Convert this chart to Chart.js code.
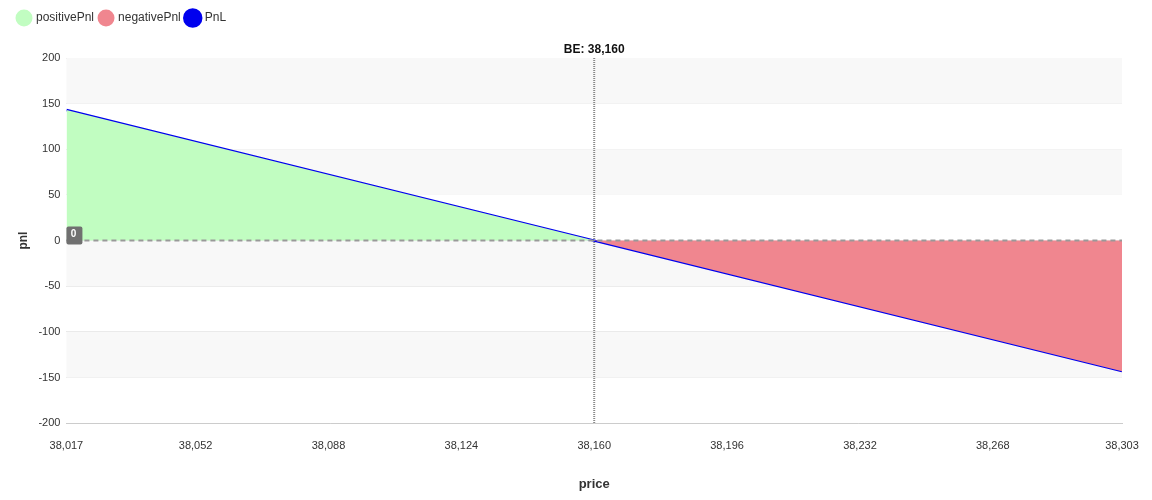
<!DOCTYPE html>
<html><head><meta charset="utf-8">
<script src="https://cdn.jsdelivr.net/npm/chart.js@4/dist/chart.umd.min.js"></script>
<style>body{margin:0;background:#fff}#w{width:1152px;height:500px}</style>
</head><body><div id="w"><canvas id="c"></canvas></div>
<script>
const xTicks = [38017, 38052, 38088, 38124, 38160, 38196, 38232, 38268, 38303];
const yTicks = [-200, -150, -100, -50, 0, 50, 100, 150, 200];
const positivePnl = [{x:38017,y:143},{x:38160,y:0}];
const negativePnl = [{x:38160,y:0},{x:38303,y:-143}];
const pnlLine = [{x:38017,y:143},{x:38160,y:0},{x:38303,y:-143}];
const breakEven = 38160;

const fmt = v => v.toLocaleString('en-US');
Chart.defaults.font.family = '"Liberation Sans", Arial, sans-serif';
Chart.defaults.font.size = 11;
Chart.defaults.color = '#333';

const legendSpace = {
  id: 'legendSpace',
  beforeInit(ch) {
    const lg = ch.legend, orig = lg.fit;
    lg.fit = function () { orig.call(this); this.height += 24; };
  }
};

const deco = {
  id: 'deco',
  beforeDatasetsDraw(ch) {
    const {ctx, chartArea: a, scales: {y}} = ch;
    ctx.save();
    for (let i = 0; i < yTicks.length - 1; i++) {
      const top = yTicks[yTicks.length - 1 - i], bot = yTicks[yTicks.length - 2 - i];
      if (i % 2 === 0) {
        ctx.fillStyle = '#f8f8f8';
        const y1 = y.getPixelForValue(top), y2 = y.getPixelForValue(bot);
        ctx.fillRect(a.left, y1, a.right - a.left, y2 - y1);
      }
    }
    ctx.restore();
  },
  afterDatasetsDraw(ch) {
    const {ctx, chartArea: a, scales: {x, y}} = ch;
    ctx.save();
    const y0 = y.getPixelForValue(0);
    ctx.strokeStyle = '#999'; ctx.lineWidth = 2; ctx.setLineDash([5, 4]);
    ctx.beginPath(); ctx.moveTo(a.left, y0); ctx.lineTo(a.right, y0); ctx.stroke();
    const xb = x.getPixelForValue(breakEven);
    ctx.strokeStyle = '#888'; ctx.lineWidth = 2; ctx.setLineDash([1, 1]);
    ctx.beginPath(); ctx.moveTo(xb, a.top); ctx.lineTo(xb, a.bottom); ctx.stroke();
    ctx.setLineDash([]);
    ctx.fillStyle = '#111'; ctx.font = 'bold 12px "Liberation Sans", Arial';
    ctx.textAlign = 'center'; ctx.textBaseline = 'bottom';
    ctx.fillText('BE: ' + fmt(breakEven), xb, a.top - 2);
    ctx.fillStyle = '#707070';
    ctx.beginPath(); ctx.roundRect(a.left, y0 - 14, 16, 18, 2); ctx.fill();
    ctx.fillStyle = '#fff'; ctx.font = 'bold 10px "Liberation Sans", Arial';
    ctx.textBaseline = 'middle'; ctx.fillText('0', a.left + 7, y0 - 6);
    ctx.restore();
  }
};

new Chart(document.getElementById('c'), {
  type: 'line',
  data: { datasets: [
    {label:'positivePnl', data: positivePnl, borderWidth:0, pointRadius:0, fill:'origin', backgroundColor:'#c1fdc1', borderColor:'#c1fdc1'},
    {label:'negativePnl', data: negativePnl, borderWidth:0, pointRadius:0, fill:'origin', backgroundColor:'#f0868f', borderColor:'#f0868f'},
    {label:'PnL', data: pnlLine, borderWidth:2.5, pointRadius:0, fill:false, borderColor:'#0000ee', backgroundColor:'#0000ee'}
  ]},
  options: {
    responsive:true, maintainAspectRatio:false, animation:false,
    layout:{padding:{left:12,right:30,top:6,bottom:4}},
    plugins:{
      legend:{position:'top', align:'start', labels:{usePointStyle:true, pointStyle:'circle', boxWidth:14, boxHeight:14, padding:6, color:'#333', font:{size:12}}},
      tooltip:{enabled:false}
    },
    scales:{
      x:{type:'linear', min:xTicks[0], max:xTicks[xTicks.length-1],
        afterBuildTicks: s => { s.ticks = xTicks.map(v => ({value:v})); },
        ticks:{callback: v => fmt(v), maxRotation:0, color:'#333', padding:8},
        grid:{display:false}, border:{color:'#ccc'},
        title:{display:true, text:'price', font:{weight:'bold', size:13}, color:'#333', padding:{top:16}}},
      y:{min:-200, max:200,
        afterBuildTicks: s => { s.ticks = yTicks.map(v => ({value:v})); },
        ticks:{color:'#333', padding:6},
        grid:{color:'#e8e8e8', drawTicks:false}, border:{display:false},
        title:{display:true, text:'pnl', font:{weight:'bold', size:12}, color:'#333', padding:{bottom:2}}}
    }
  },
  plugins:[legendSpace, deco]
});
</script></body></html>
